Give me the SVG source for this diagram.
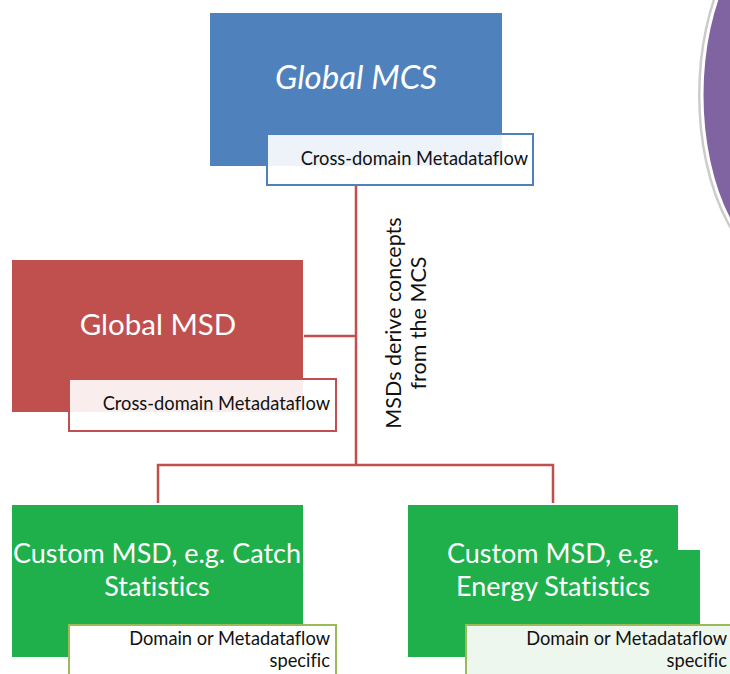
<svg xmlns="http://www.w3.org/2000/svg" width="730" height="674" viewBox="0 0 730 674">
<style>
  text { font-family: Lato, "Open Sans", "Liberation Sans", sans-serif; font-variant-ligatures: none; }
  .lbl { fill: #111; font-size: 18.3px; text-anchor: end; }
  .big { fill: #fff; text-anchor: middle; }
  .conn { stroke: #c0504d; stroke-width: 2.5; fill: none; }
</style>
<rect width="730" height="674" fill="#fff"/>
<g id="purple-shape">
  <ellipse cx="800" cy="95" rx="100" ry="182" fill="none" stroke="#ccc" stroke-width="4"/>
  <ellipse cx="800" cy="95" rx="98" ry="180" fill="#8064a2" stroke="#fff" stroke-width="3"/>
</g>
<g id="connectors">
  <line class="conn" x1="356" y1="185" x2="356" y2="465"/>
  <line class="conn" x1="304" y1="336" x2="356" y2="336"/>
  <polyline class="conn" points="158,503 158,465 553,465 553,503"/>
</g>
<g id="global-mcs">
  <rect x="210" y="13" width="292" height="153" fill="#4f81bd"/>
  <text class="big" x="356" y="89" font-size="33" font-style="italic">Global MCS</text>
  <rect x="267" y="134" width="266" height="51" fill="#fff" fill-opacity="0.9" stroke="#4f81bd" stroke-width="2"/>
  <text class="lbl" x="528" y="165">Cross-domain Metadataflow</text>
</g>
<g id="global-msd">
  <rect x="12" y="260" width="291" height="152" fill="#c0504d"/>
  <text class="big" x="158" y="335" font-size="29.5">Global MSD</text>
  <rect x="69" y="379" width="267" height="52" fill="#fff" fill-opacity="0.9" stroke="#c0504d" stroke-width="2"/>
  <text class="lbl" x="330" y="410">Cross-domain Metadataflow</text>
</g>
<g id="note">
  <text font-size="21.5" fill="#111" text-anchor="middle" transform="translate(401,323) rotate(-90)">MSDs derive concepts</text>
  <text font-size="21.5" fill="#111" text-anchor="middle" transform="translate(426,323) rotate(-90)">from the MCS</text>
</g>
<g id="custom-catch">
  <rect x="12" y="505" width="291" height="152" fill="#1fb04b"/>
  <text class="big" x="157" y="563" font-size="27">Custom MSD, e.g. Catch</text>
  <text class="big" x="157" y="596" font-size="27">Statistics</text>
  <rect x="69" y="625" width="267" height="60" fill="#fff" stroke="#9bbb59" stroke-width="2"/>
  <text class="lbl" x="330" y="645">Domain or Metadataflow</text>
  <text class="lbl" x="330" y="667">specific</text>
</g>
<g id="custom-energy">
  <rect x="408" y="505" width="292" height="152" fill="#1fb04b"/>
  <rect x="678" y="503" width="52" height="47" fill="#fff"/>
  <text class="big" x="553" y="563" font-size="27">Custom MSD, e.g.</text>
  <text class="big" x="553" y="596" font-size="27">Energy Statistics</text>
  <rect x="466" y="625" width="280" height="60" fill="#eef7ee" stroke="#9bbb59" stroke-width="2"/>
  <text class="lbl" x="727" y="645">Domain or Metadataflow</text>
  <text class="lbl" x="727" y="667">specific</text>
</g>
</svg>
